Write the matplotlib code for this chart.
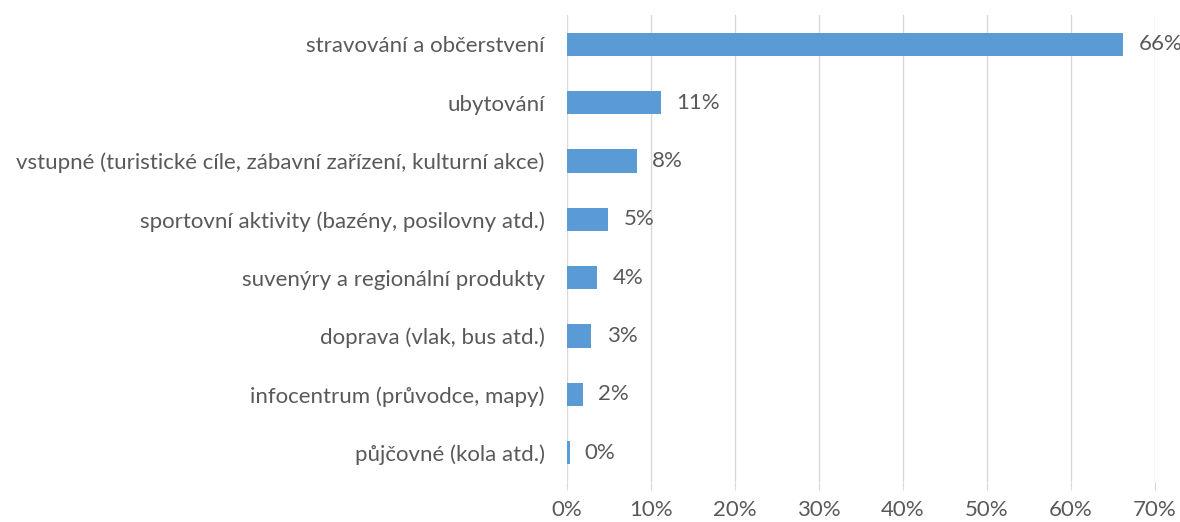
import matplotlib.pyplot as plt

categories = [
    "stravování a občerstvení",
    "ubytování",
    "vstupné (turistické cíle, zábavní zařízení, kulturní akce)",
    "sportovní aktivity (bazény, posilovny atd.)",
    "suvenýry a regionální produkty",
    "doprava (vlak, bus atd.)",
    "infocentrum (průvodce, mapy)",
    "půjčovné (kola atd.)",
]
values = [66.2, 11.2, 8.3, 4.9, 3.6, 2.9, 1.9, 0.3]
xticks = [0, 10, 20, 30, 40, 50, 60, 70]

plt.rcParams['font.family'] = ['Lato', 'DejaVu Sans']
text_col = '#595959'
fs = 16

fig = plt.figure(figsize=(11.8, 5.22), dpi=100)
ax = fig.add_axes([567 / 1180, 1 - 482 / 522, (1155 - 567) / 1180, (482 - 15) / 522])

ypos = list(range(len(categories)))
ax.barh(ypos, values, height=0.4, color='#5B9BD5', zorder=3)
for y, v in zip(ypos, values):
    ax.annotate(f"{round(v)}%", (v, y), xytext=(11, 0), textcoords='offset points',
                va='center', ha='left', fontsize=fs, color=text_col)

ax.set_ylim(len(categories) - 0.5, -0.5)
ax.set_xlim(0, 70)
ax.set_yticks(ypos)
ax.set_yticklabels(categories, fontsize=fs, color=text_col)
ax.set_xticks(xticks)
ax.set_xticklabels([f"{t}%" for t in xticks], fontsize=fs, color=text_col)
ax.tick_params(axis='y', length=0, pad=16)
ax.tick_params(axis='x', length=6, color='#D9D9D9', pad=7)
ax.grid(axis='x', color='#D9D9D9', linewidth=1, zorder=0)
for s in ax.spines.values():
    s.set_visible(False)

fig.savefig('out.png', dpi=100)
